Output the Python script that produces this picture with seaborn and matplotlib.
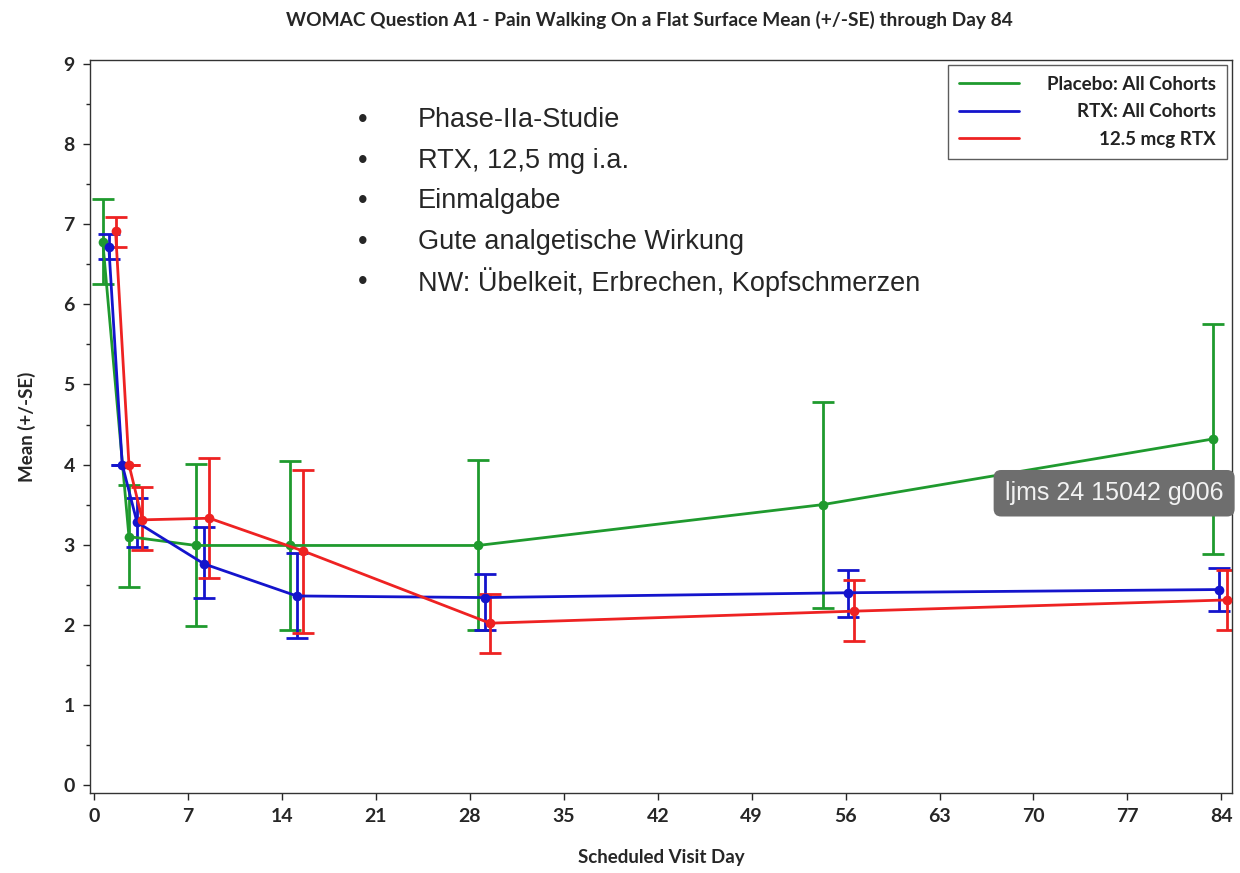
import numpy as np
import pandas as pd
import matplotlib
matplotlib.use("Agg")
import matplotlib.pyplot as plt
import seaborn as sns

# Werte (Tag, Mittelwert, untere/obere SE-Grenze)
placebo_day = [0.65, 2.6, 7.6, 14.6, 28.6, 54.3, 83.4]
placebo_mean = [6.78, 3.10, 2.99, 2.99, 2.99, 3.50, 4.32]
placebo_lo = [6.25, 2.47, 1.98, 1.93, 1.93, 2.21, 2.88]
placebo_hi = [7.32, 3.75, 4.01, 4.04, 4.06, 4.78, 5.76]

rtx_day = [1.1, 2.1, 3.2, 8.2, 15.1, 29.1, 56.2, 83.8]
rtx_mean = [6.72, 4.00, 3.28, 2.76, 2.36, 2.34, 2.40, 2.44]
rtx_lo = [6.56, 4.00, 2.97, 2.33, 1.83, 1.93, 2.10, 2.17]
rtx_hi = [6.88, 4.00, 3.58, 3.22, 2.90, 2.64, 2.68, 2.71]

r125_day = [1.6, 2.6, 3.6, 8.6, 15.6, 29.5, 56.6, 84.4]
r125_mean = [6.92, 4.00, 3.31, 3.33, 2.92, 2.02, 2.17, 2.31]
r125_lo = [6.72, 4.00, 2.93, 2.58, 1.90, 1.65, 1.80, 1.94]
r125_hi = [7.09, 4.00, 3.72, 4.08, 3.93, 2.38, 2.56, 2.68]

labels = ['Placebo: All Cohorts', 'RTX: All Cohorts', '12.5 mcg RTX']
colors = ['#1f9a2e', '#1414cc', '#ee2222']

bullets = ['Phase-IIa-Studie', 'RTX, 12,5 mg i.a.', 'Einmalgabe',
           'Gute analgetische Wirkung', 'NW: Übelkeit, Erbrechen, Kopfschmerzen']

series = [
    (placebo_day, placebo_mean, placebo_lo, placebo_hi),
    (rtx_day, rtx_mean, rtx_lo, rtx_hi),
    (r125_day, r125_mean, r125_lo, r125_hi),
]

frames = []
for lab, (d, m, lo, hi) in zip(labels, series):
    frames.append(pd.DataFrame({'day': d, 'mean': m, 'lo': lo, 'hi': hi, 'group': lab}))
df = pd.concat(frames, ignore_index=True)

sns.set_style('white')
plt.rcParams['font.family'] = ['Lato', 'DejaVu Sans']

fig = plt.figure(figsize=(12.4, 8.73), dpi=100)
ax = fig.add_axes([0.0726, 0.0916, 0.921, 0.8397])

for lab, col in zip(labels, colors):
    sub = df[df['group'] == lab]
    ax.errorbar(sub['day'], sub['mean'],
                yerr=[sub['mean'] - sub['lo'], sub['hi'] - sub['mean']],
                fmt='none', ecolor=col, elinewidth=2, capsize=8, capthick=2, zorder=2)

sns.lineplot(data=df, x='day', y='mean', hue='group', hue_order=labels,
             palette=colors, marker='o', markersize=7, markeredgewidth=0,
             linewidth=2, estimator=None, sort=False, ax=ax, zorder=3)

ax.set_xlim(-0.3, 84.8)
ax.set_ylim(-0.1, 9.05)
ax.set_xticks(np.arange(0, 85, 7))
ax.set_yticks(np.arange(0, 10, 1))
ax.set_yticks(np.arange(0.5, 9, 1), minor=True)
ax.tick_params(axis='both', which='major', direction='out', length=5, width=1,
               labelsize=14, bottom=True, left=True, pad=6)
ax.tick_params(axis='y', which='minor', direction='out', length=3, width=1, left=True)
for t in ax.get_xticklabels() + ax.get_yticklabels():
    t.set_fontweight('bold')
for sp in ax.spines.values():
    sp.set_color('#333333')
    sp.set_linewidth(1)

ax.set_xlabel('Scheduled Visit Day', fontsize=13.5, fontweight='bold', labelpad=17)
ax.set_ylabel('Mean (+/-SE)', fontsize=13.5, fontweight='bold', labelpad=20)
fig.suptitle('WOMAC Question A1 - Pain Walking On a Flat Surface Mean (+/-SE) through Day 84',
             fontsize=13.8, fontweight='bold', x=0.524, y=0.988)

leg = ax.legend(loc='upper right', frameon=True, fancybox=False, fontsize=13.5,
                handlelength=3.2, borderpad=0.6, labelspacing=0.55,
                handletextpad=1.5, borderaxespad=0.25)
leg.get_frame().set_edgecolor('#333333')
leg.get_frame().set_linewidth(1)
for h in leg.legend_handles:
    h.set_marker('')
for t in leg.get_texts():
    t.set_fontweight('bold')
    t.set_color('#222222')

# Legendentexte rechtsbündig wie im Original
fig.canvas.draw()
rend = fig.canvas.get_renderer()
rows = [row for col in leg._legend_handle_box.get_children() for row in col.get_children()]
wmax = max(row.get_bbox(rend).width for row in rows)
for row in rows:
    row.mode = 'expand'
    row.width = wmax

for i, b in enumerate(bullets):
    yy = 0.8625 - i * 0.0464
    fig.text(0.289, yy, '•', fontsize=19.5, family='Liberation Sans', va='center')
    fig.text(0.337, yy, b, fontsize=19.5, family='Liberation Sans', va='center')

fig.text(0.8985, 0.435, 'ljms 24 15042 g006', fontsize=18, color='#f2f2f2',
         family='Liberation Sans', ha='center', va='center',
         bbox=dict(boxstyle='round,pad=0.45,rounding_size=0.3', fc='#6e6e6e', ec='none'))

fig.savefig('out.png', dpi=100)
